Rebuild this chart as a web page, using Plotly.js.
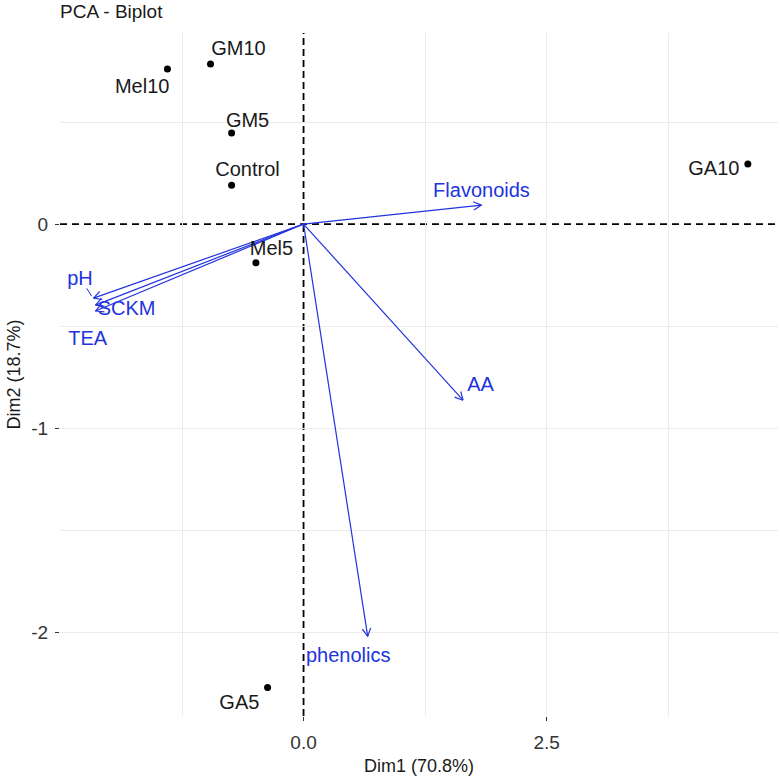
<!DOCTYPE html>
<html><head><meta charset="utf-8">
<script src="https://cdn.plot.ly/plotly-3.0.1.min.js"></script>
<style>body{margin:0;background:#fff}</style>
</head><body><div id="chart" style="width:780px;height:779px"></div>
<script>
// Individuals (samples)
const samples = ['Control','GA5','GA10','GM5','GM10','Mel5','Mel10'];
const sampleDim1 = [-0.74,-0.37,4.57,-0.74,-0.957,-0.49,-1.40];
const sampleDim2 = [0.19,-2.27,0.294,0.446,0.784,-0.19,0.76];
const sampleLabelDim1 = [-0.576,-0.66,4.22,-0.576,-0.67,-0.33,-1.66];
const sampleLabelDim2 = [0.26,-2.35,0.265,0.50,0.853,-0.127,0.667];

// Variables (loadings arrows)
const variables = ['pH','TEA','SCKM','AA','phenolics','Flavonoids'];
const varDim1 = [-2.16,-2.14,-2.14,1.64,0.66,1.83];
const varDim2 = [-0.363,-0.426,-0.397,-0.863,-2.02,0.093];
const varLabelDim1 = [-2.30,-2.22,-1.82,1.82,0.46,1.83];
const varLabelDim2 = [-0.275,-0.57,-0.42,-0.794,-2.12,0.157];

const xTicks = [0, 2.5], xTickText = ['0.0','2.5'], xGrid = [-1.25, 1.25, 2.5, 3.75];
const yTicks = [-2, -1, 0], yTickText = ['-2','-1','0'], yGrid = [-2, -1.5, -1, -0.5, 0.5];

const W = 780, H = 779;
const M = {l:60, r:2, t:33, b:63};
const xRange = [-2.505, 4.88], yRange = [-2.41, 0.936];
const pxX = (W - M.l - M.r) / (xRange[1] - xRange[0]);
const pxY = (H - M.t - M.b) / (yRange[1] - yRange[0]);

const blue = '#2233DD';
const font = 'Liberation Sans, Arial, sans-serif';

// arrow shafts + open heads, computed from the data through the axis scales
const ax = [], ay = [];
const headLen = 9, headAng = 28 * Math.PI / 180;
for (let i = 0; i < variables.length; i++) {
  const tx = varDim1[i], ty = varDim2[i];
  ax.push(0, tx, null); ay.push(0, ty, null);
  const dx = tx * pxX, dy = ty * pxY;
  const ang = Math.atan2(dy, dx);
  for (const s of [1, -1]) {
    const a = ang + Math.PI + s * headAng;
    ax.push(tx, tx + headLen * Math.cos(a) / pxX, null);
    ay.push(ty, ty + headLen * Math.sin(a) / pxY, null);
  }
}
// repel segment for pH label
const segX = [varLabelDim1[0] + 0.07, varDim1[0] - 0.02];
const segY = [varLabelDim2[0] - 0.04, varDim2[0] + 0.01];

const traces = [
  {x: ax, y: ay, mode: 'lines', line: {color: blue, width: 1.2}, hoverinfo: 'skip', showlegend: false},
  {x: segX, y: segY, mode: 'lines', line: {color: blue, width: 1}, hoverinfo: 'skip', showlegend: false},
  {x: sampleDim1, y: sampleDim2, mode: 'markers', marker: {color: '#000', size: 7}, text: samples, hoverinfo: 'text', showlegend: false},
  {x: sampleLabelDim1, y: sampleLabelDim2, mode: 'text', text: samples, textposition: 'middle center',
   textfont: {family: font, size: 20, color: '#1a1a1a'}, hoverinfo: 'skip', showlegend: false},
  {x: varLabelDim1, y: varLabelDim2, mode: 'text', text: variables, textposition: 'middle center',
   textfont: {family: font, size: 20, color: blue}, hoverinfo: 'skip', showlegend: false}
];

const axisCommon = {
  showline: false, zeroline: false, ticks: 'outside', ticklen: 4, tickwidth: 1, tickcolor: '#333',
  tickfont: {family: font, size: 19, color: '#333'}, showgrid: false,
  tickmode: 'array', fixedrange: true
};

const layout = {
  width: W, height: H, margin: M,
  paper_bgcolor: '#fff', plot_bgcolor: '#fff',
  title: {text: 'PCA - Biplot', x: M.l / W, xref: 'container', xanchor: 'left', y: 1 - 11 / H, yref: 'container', yanchor: 'middle',
          font: {family: font, size: 19, color: '#1a1a1a'}},
  xaxis: Object.assign({}, axisCommon, {range: xRange, tickvals: xTicks, ticktext: xTickText,
    minor: {tickmode: 'array', tickvals: xGrid, showgrid: true, gridcolor: '#ebebeb', gridwidth: 1, ticks: ''},
    ticklabelstandoff: 5,
    title: {text: 'Dim1 (70.8%)', font: {family: font, size: 18, color: '#1a1a1a'}, standoff: 7}}),
  yaxis: Object.assign({}, axisCommon, {range: yRange, tickvals: yTicks, ticktext: yTickText,
    minor: {tickmode: 'array', tickvals: yGrid, showgrid: true, gridcolor: '#ebebeb', gridwidth: 1, ticks: ''},
    ticklabelstandoff: 3,
    title: {text: 'Dim2 (18.7%)', font: {family: font, size: 18, color: '#1a1a1a'}, standoff: 5}}),
  shapes: [
    {type: 'line', xref: 'x', yref: 'paper', x0: 0, x1: 0, y0: 0, y1: 1, line: {color: '#000', width: 1.8, dash: '7px,4px'}, layer: 'below'},
    {type: 'line', xref: 'paper', yref: 'y', x0: 0, x1: 1, y0: 0, y1: 0, line: {color: '#000', width: 1.8, dash: '7px,5px'}, layer: 'below'}
  ]
};

Plotly.newPlot('chart', traces, layout, {displayModeBar: false, staticPlot: true});
</script></body></html>
